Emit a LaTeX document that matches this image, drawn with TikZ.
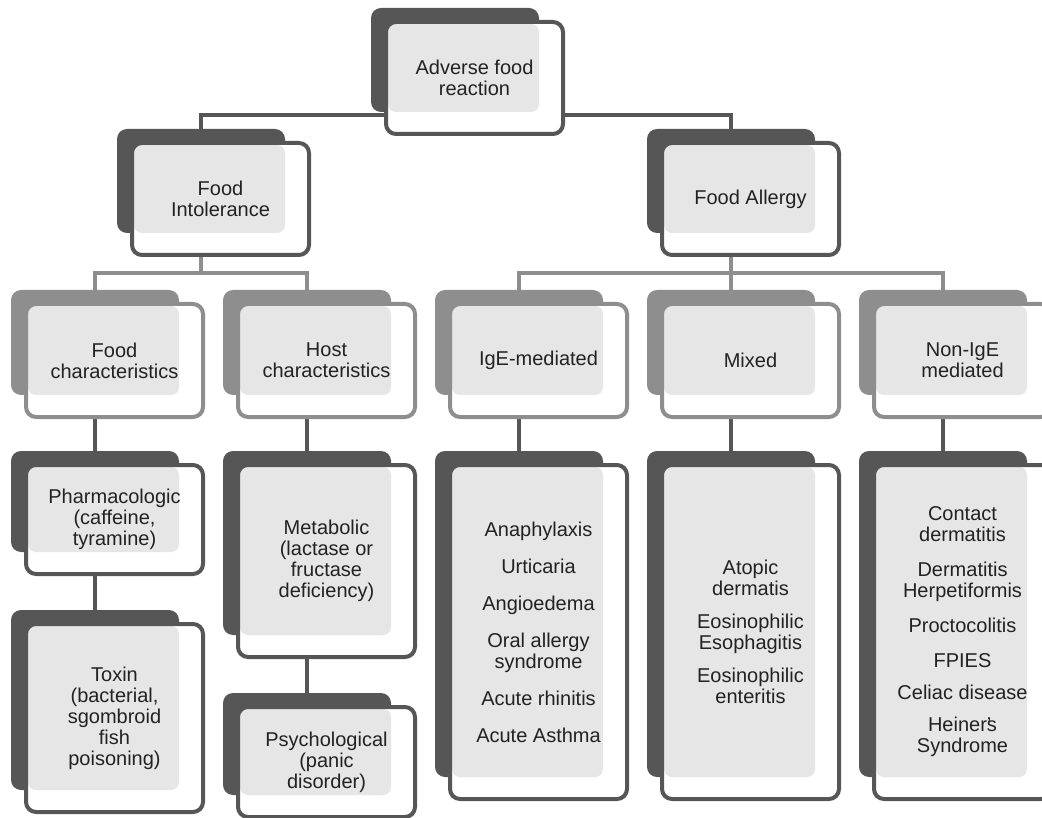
\documentclass[tikz,border=0pt]{standalone}
\usepackage{fontspec}
\setmainfont{Liberation Sans}
\usetikzlibrary{
	calc,
	backgrounds,
	positioning
}

\definecolor{boxdark}{HTML}{565656}
\definecolor{boxmid}{HTML}{8E8E8E}
\definecolor{boxlight}{HTML}{E6E6E6}
\definecolor{boxtxt}{HTML}{222222}

\tikzset{
	backbox/.style={rectangle, rounded corners=10pt, minimum width=168pt, inner sep=0pt, outer sep=0pt, anchor=north west},
	frontedge/.style={line width=4pt, rounded corners=10pt},
	boxtext/.style={align=center, text=boxtxt, font=\fontsize{20}{21}\selectfont, inner sep=0pt},
	darklink/.style={draw=boxdark, line width=4pt},
	graylink/.style={draw=boxmid, line width=4pt}
}

% name, x, y (top left of the dark box), height, colour, text
\newcommand{\foodbox}[6]{
	\node[backbox, fill=#5, minimum height=#4pt] (#1) at (#2,-#3) {};
	\fill[white, rounded corners=10pt] ($(#1.north west)+(15,-14)$) rectangle ($(#1.south east)+(24,-22)$);
	\fill[boxlight, rounded corners=8pt] ($(#1.north west)+(17,-16)$) rectangle (#1.south east);
	\draw[frontedge, draw=#5] ($(#1.north west)+(15,-14)$) rectangle ($(#1.south east)+(24,-22)$);
	\node[boxtext] (#1t) at ($(#1.north west)!0.5!(#1.south east)+(19.5,-18)$) {#6};
}

\begin{document}
\begin{tikzpicture}[x=1pt, y=1pt]
	\useasboundingbox (0,0) rectangle (1042,-818);
	% top
	\foodbox{ad}{371}{8}{104}{boxdark}{Adverse food\\reaction}
	\foodbox{fi}{117}{129}{104}{boxdark}{Food\\Intolerance}
	\foodbox{fa}{647}{129}{104}{boxdark}{Food Allergy}
	% second row
	\foodbox{fc}{11}{290}{105}{boxmid}{Food\\characteristics}
	\foodbox{hc}{223}{290}{105}{boxmid}{Host\\characteristics}
	\foodbox{ige}{435}{290}{105}{boxmid}{IgE-mediated}
	\foodbox{mx}{647}{290}{105}{boxmid}{Mixed}
	\foodbox{ni}{859}{290}{105}{boxmid}{Non-IgE\\mediated}
	% third row
	\foodbox{ph}{11}{451}{101}{boxdark}{Pharmacologic\\(caffeine,\\tyramine)}
	\foodbox{tox}{11}{610}{180}{boxdark}{Toxin\\(bacterial,\\sgombroid\\fish\\poisoning)}
	\foodbox{met}{223}{451}{184}{boxdark}{Metabolic\\(lactase or\\fructase\\deficiency)}
	\foodbox{psy}{223}{693}{102}{boxdark}{Psychological\\(panic\\disorder)}
	\foodbox{igel}{435}{451}{326}{boxdark}{Anaphylaxis\\[16pt]Urticaria\\[16pt]Angioedema\\[16pt]Oral allergy\\syndrome\\[16pt]Acute rhinitis\\[16pt]Acute Asthma}
	\foodbox{mxl}{647}{451}{326}{boxdark}{Atopic\\dermatis\\[12pt]Eosinophilic\\Esophagitis\\[12pt]Eosinophilic\\enteritis}
	\foodbox{nil}{859}{451}{326}{boxdark}{Contact\\dermatitis\\[14pt]Dermatitis\\Herpetiformis\\[14pt]Proctocolitis\\[14pt]FPIES\\[11pt]Celiac disease\\[11pt]Heiner\rlap{’}s\\Syndrome}

	\begin{scope}[on background layer]
		\draw[darklink] (fi.north) -- ++(0,14) -| (fa.north);
		\coordinate (fibus) at ($(fc.north)+(0,17)$);
		\draw[graylink] (fc.north) |- (fibus) -| (hc.north);
		\draw[graylink] (fi.south) -- (fi.south |- fibus);
		\draw[graylink] (ige.north) -- ++(0,17) -| (ni.north);
		\draw[graylink] (fa.south) -- (mx.north);
		\draw[darklink] (fc.south) -- (ph.north);
		\draw[darklink] (ph.south) -- (tox.north);
		\draw[darklink] (hc.south) -- (met.north);
		\draw[darklink] (met.south) -- (psy.north);
		\draw[darklink] (ige.south) -- (igel.north);
		\draw[darklink] (mx.south) -- (mxl.north);
		\draw[darklink] (ni.south) -- (nil.north);
	\end{scope}
\end{tikzpicture}
\end{document}
